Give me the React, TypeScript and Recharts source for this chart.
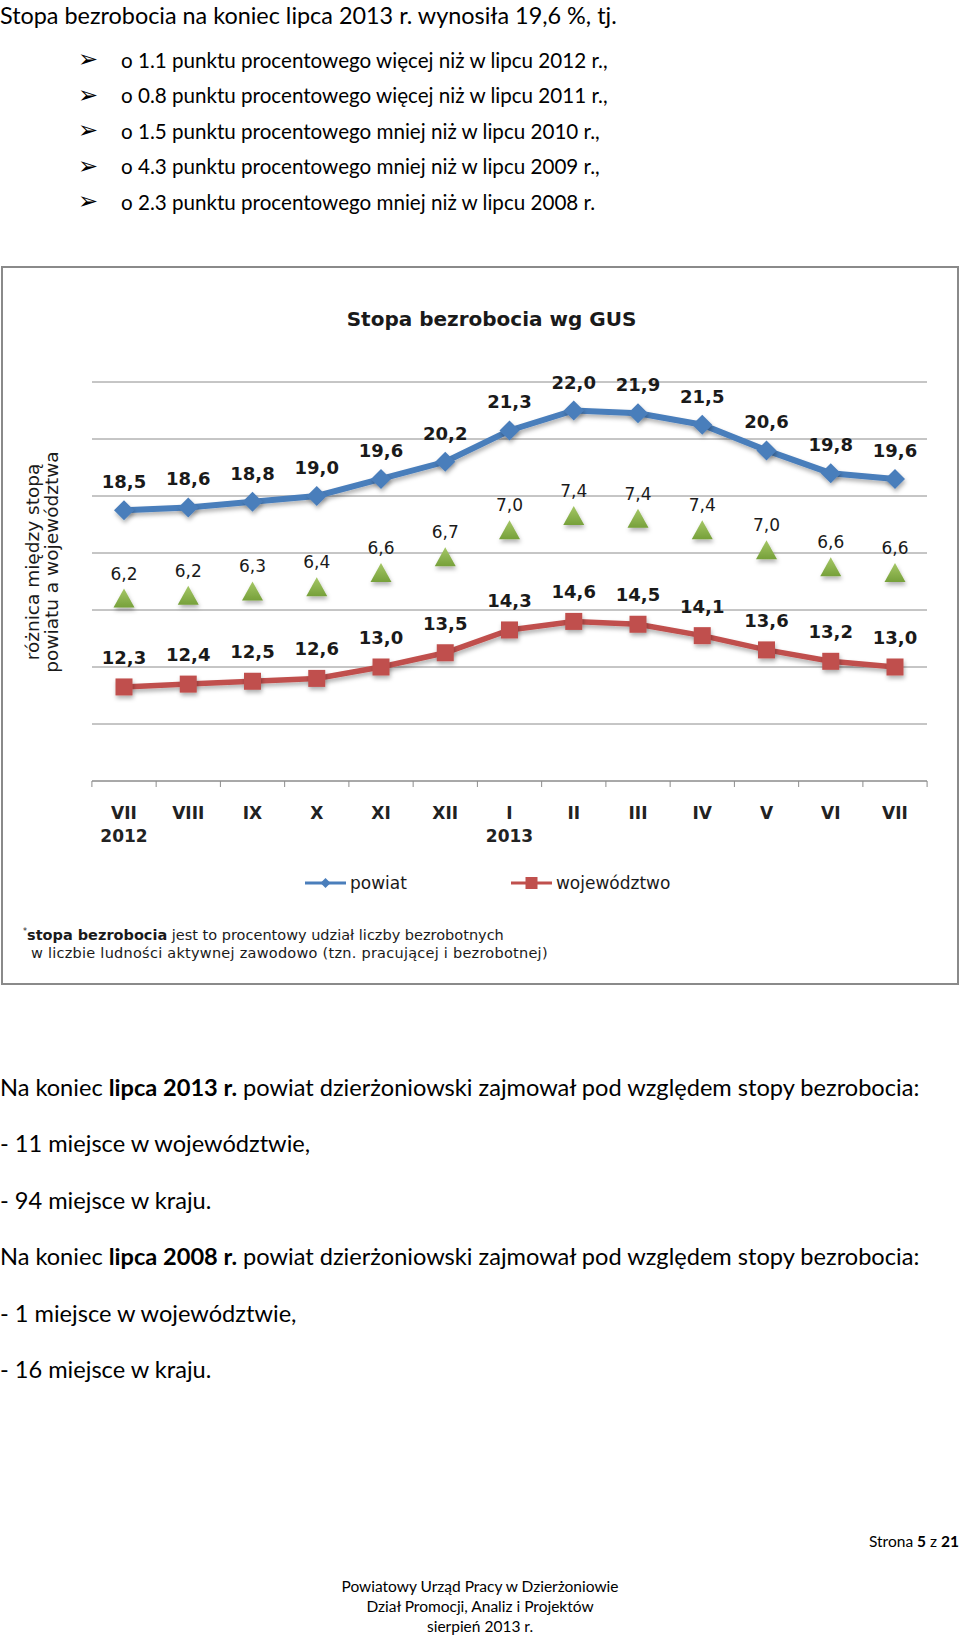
import React from 'react';
import { LineChart, Line, XAxis, YAxis, CartesianGrid, LabelList, Legend } from 'recharts';

const months = ['VII', 'VIII', 'IX', 'X', 'XI', 'XII', 'I', 'II', 'III', 'IV', 'V', 'VI', 'VII'];
const years = ['2012', '', '', '', '', '', '2013', '', '', '', '', '', ''];
const powiat = [18.5, 18.6, 18.8, 19.0, 19.6, 20.2, 21.3, 22.0, 21.9, 21.5, 20.6, 19.8, 19.6];
const wojewodztwo = [12.3, 12.4, 12.5, 12.6, 13.0, 13.5, 14.3, 14.6, 14.5, 14.1, 13.6, 13.2, 13.0];
// label of the triangles (difference powiat - wojewodztwo)
const roznica = [6.2, 6.2, 6.3, 6.4, 6.6, 6.7, 7.0, 7.4, 7.4, 7.4, 7.0, 6.6, 6.6];
// where the triangles sit on the chart (half way between both lines)
const roznicaPoz = [15.4, 15.5, 15.65, 15.8, 16.3, 16.85, 17.8, 18.3, 18.2, 17.8, 17.1, 16.5, 16.3];
const yTicks = [9, 11, 13, 15, 17, 19, 21, 23];

const porownania = [
  'o 1.1 punktu procentowego więcej niż w lipcu 2012 r.,',
  'o 0.8 punktu procentowego więcej niż w lipcu 2011 r.,',
  'o 1.5 punktu procentowego mniej niż w lipcu 2010 r.,',
  'o 4.3 punktu procentowego mniej niż w lipcu 2009 r.,',
  'o 2.3 punktu procentowego mniej niż w lipcu 2008 r.',
];

const data = months.map((m, i) => ({
  m,
  powiat: powiat[i],
  woj: wojewodztwo[i],
  poz: roznicaPoz[i],
  roz: roznica[i],
}));

const BLUE = '#4a7ebb';
const RED = '#c0504d';
const GRID = '#8c8c8c';
const CHART_FONT = '"DejaVu Sans", Verdana, sans-serif';
const HALF = 32.1;

const fmt = (v: number) => v.toFixed(1).replace('.', ',');

const Diamond = (p: any) => {
  const { cx, cy } = p;
  if (cx == null || cy == null) return null;
  return <path d={`M${cx} ${cy - 10}L${cx + 10} ${cy}L${cx} ${cy + 10}L${cx - 10} ${cy}Z`} fill={BLUE} filter="url(#cien)" />;
};

const Square = (p: any) => {
  const { cx, cy } = p;
  if (cx == null || cy == null) return null;
  return <rect x={cx - 8.5} y={cy - 8.5} width={17} height={17} fill={RED} filter="url(#cien)" />;
};

const Triangle = (p: any) => {
  const { cx, cy } = p;
  if (cx == null || cy == null) return null;
  return <path d={`M${cx} ${cy - 10}L${cx + 10.5} ${cy + 9}L${cx - 10.5} ${cy + 9}Z`} fill="url(#ziel)" filter="url(#cien)" />;
};

const makeLabel = (lift: number, bold: boolean, size: number) => (props: any) => {
  const vb = props.viewBox || {};
  const x = props.x ?? vb.x;
  const y = props.y ?? vb.y;
  if (x == null || y == null) return null;
  return (
    <text x={x} y={y - lift} textAnchor="middle" fontFamily={CHART_FONT} fontSize={size}
      fontWeight={bold ? 'bold' : 'normal'} fill="#1a1a1a">
      {fmt(Number(props.value))}
    </text>
  );
};

const MonthTick = (props: any) => {
  const { x, y, payload } = props;
  const i = payload?.index ?? props.index;
  return (
    <g>
      <line x1={x - HALF} x2={x - HALF} y1={y - 8} y2={y - 2} stroke={GRID} />
      {i === months.length - 1 && <line x1={x + HALF} x2={x + HALF} y1={y - 8} y2={y - 2} stroke={GRID} />}
      <text x={x} y={y + 30} textAnchor="middle" fontFamily={CHART_FONT} fontSize={17} fontWeight="bold" fill="#222">
        {payload.value}
      </text>
      {years[i] && (
        <text x={x} y={y + 53} textAnchor="middle" fontFamily={CHART_FONT} fontSize={17} fontWeight="bold" fill="#222">
          {years[i]}
        </text>
      )}
    </g>
  );
};

const LegendContent = (props: any) => {
  const items = (props.payload || []).filter((e: any) => e.type !== 'none');
  return (
    <div style={{ display: 'flex', alignItems: 'center', paddingLeft: 305, height: 24 }}>
      {items.map((e: any, i: number) => (
        <div key={i} style={{ display: 'flex', alignItems: 'center', marginRight: 104 }}>
          <svg width={41} height={20}>
            <line x1={0} x2={41} y1={10} y2={10} stroke={e.color} strokeWidth={3} />
            {e.dataKey === 'powiat'
              ? <path d="M20.5 5L25.5 10L20.5 15L15.5 10Z" fill={e.color} />
              : <rect x={14.5} y={4} width={12} height={12} fill={e.color} />}
          </svg>
          <span style={{ fontFamily: CHART_FONT, fontSize: 17, marginLeft: 4, color: '#1a1a1a' }}>{e.value}</span>
        </div>
      ))}
    </div>
  );
};

export default function App() {
  const bodyLine = (top: number, content: React.ReactNode) => (
    <div style={{ position: 'absolute', left: 0, top, fontSize: 23.6, lineHeight: '28px', whiteSpace: 'nowrap' }}>{content}</div>
  );
  return (
    <div style={{ position: 'absolute', left: 0, top: 0, width: 960, height: 1639, background: '#fff', fontFamily: 'Lato, "Open Sans", sans-serif', color: '#000', overflow: 'hidden' }}>
      <div style={{ position: 'absolute', left: 0, top: 1, fontSize: 23.4, lineHeight: '28px', whiteSpace: 'nowrap' }}>
        Stopa bezrobocia na koniec lipca 2013 r. wynosiła 19,6 %, tj.
      </div>
      {porownania.map((t, i) => (
        <React.Fragment key={i}>
          <div style={{ position: 'absolute', left: 78, top: 45 + i * 35.5, fontFamily: CHART_FONT, fontSize: 24, lineHeight: '28px' }}>➢</div>
          <div style={{ position: 'absolute', left: 121, top: 46.6 + i * 35.5, fontSize: 20.6, lineHeight: '26px', whiteSpace: 'nowrap' }}>{t}</div>
        </React.Fragment>
      ))}

      <div style={{ position: 'absolute', left: 1, top: 266, width: 958, height: 719, border: '2px solid #8a8a8a', boxSizing: 'border-box' }} />
      <div style={{ position: 'absolute', left: 0, top: 307, width: 983, textAlign: 'center', fontFamily: CHART_FONT, fontWeight: 'bold', fontSize: 20, lineHeight: '24px', color: '#1a1a1a' }}>
        Stopa bezrobocia wg GUS
      </div>
      <svg style={{ position: 'absolute', left: 0, top: 420 }} width={70} height={290}>
        <text transform="translate(39 142) rotate(-90)" textAnchor="middle" fontFamily={CHART_FONT} fontSize={18.5} fill="#1a1a1a">różnica między stopą</text>
        <text transform="translate(58 142) rotate(-90)" textAnchor="middle" fontFamily={CHART_FONT} fontSize={18.5} fill="#1a1a1a">powiatu a województwa</text>
      </svg>

      <div style={{ position: 'absolute', left: 0, top: 266 }}>
        <LineChart width={960} height={716} data={data} margin={{ top: 116, right: 33, left: 92, bottom: 141 }}>
          <defs>
            <filter id="cien" x="-50%" y="-50%" width="200%" height="200%">
              <feDropShadow dx="1" dy="3" stdDeviation="2" floodColor="#000" floodOpacity="0.3" />
            </filter>
            <linearGradient id="ziel" x1="0" y1="0" x2="0" y2="1">
              <stop offset="0%" stopColor="#a5c766" />
              <stop offset="100%" stopColor="#76a03a" />
            </linearGradient>
          </defs>
          <CartesianGrid vertical={false} stroke={GRID} />
          <XAxis dataKey="m" interval={0} padding={{ left: 32, right: 32 }} height={60} stroke={GRID}
            tickLine={false} tickSize={8} tickMargin={0} tick={<MonthTick />} />
          <YAxis hide domain={[9, 23]} ticks={yTicks} />
          <Legend layout="horizontal" verticalAlign="middle" align="center" content={<LegendContent />}
            wrapperStyle={{ top: 605, left: 0, width: 960, height: 24 }} />
          <Line dataKey="powiat" name="powiat" stroke={BLUE} strokeWidth={6} dot={<Diamond />} activeDot={false}
            isAnimationActive={false} filter="url(#cien)">
            <LabelList dataKey="powiat" content={makeLabel(22, true, 18)} />
          </Line>
          <Line dataKey="woj" name="województwo" stroke={RED} strokeWidth={5.5} dot={<Square />} activeDot={false}
            isAnimationActive={false} filter="url(#cien)">
            <LabelList dataKey="woj" content={makeLabel(23, true, 18)} />
          </Line>
          <Line dataKey="poz" name="różnica" stroke="none" strokeWidth={0} dot={<Triangle />} activeDot={false}
            legendType="none" isAnimationActive={false}>
            <LabelList dataKey="roz" content={makeLabel(19, false, 17)} />
          </Line>
        </LineChart>
      </div>

      <div style={{ position: 'absolute', left: 23, top: 923, fontFamily: CHART_FONT, fontSize: 14.5, lineHeight: '18px', whiteSpace: 'nowrap', color: '#1a1a1a' }}>
        <sup style={{ fontSize: 8 }}>*</sup><b>stopa bezrobocia</b> jest to procentowy udział liczby bezrobotnych
        <br />
        <span style={{ paddingLeft: 8, letterSpacing: 0.25 }}>w liczbie ludności aktywnej zawodowo (tzn. pracującej i bezrobotnej)</span>
      </div>

      {bodyLine(1072.6, <>Na koniec <b>lipca 2013 r.</b> powiat dzierżoniowski zajmował pod względem stopy bezrobocia:</>)}
      {bodyLine(1129, '- 11 miejsce w województwie,')}
      {bodyLine(1185.5, '- 94 miejsce w kraju.')}
      {bodyLine(1242, <>Na koniec <b>lipca 2008 r.</b> powiat dzierżoniowski zajmował pod względem stopy bezrobocia:</>)}
      {bodyLine(1298.5, '- 1 miejsce w województwie,')}
      {bodyLine(1355, '- 16 miejsce w kraju.')}

      <div style={{ position: 'absolute', right: 1, top: 1531, fontSize: 15.5, lineHeight: '20px', whiteSpace: 'nowrap' }}>
        Strona <b>5</b> z <b>21</b>
      </div>
      <div style={{ position: 'absolute', left: 0, width: 960, top: 1577, textAlign: 'center', fontSize: 15.5, lineHeight: '19.8px' }}>
        Powiatowy Urząd Pracy w Dzierżoniowie<br />
        Dział Promocji, Analiz i Projektów<br />
        sierpień 2013 r.
      </div>
    </div>
  );
}
